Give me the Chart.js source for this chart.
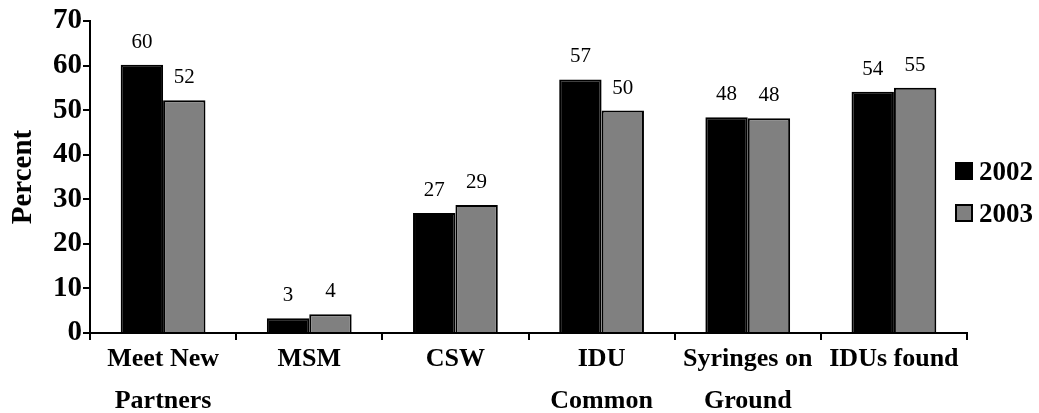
<!DOCTYPE html>
<html>
<head>
<meta charset="utf-8">
<script src="https://cdn.jsdelivr.net/npm/chart.js@4/dist/chart.umd.min.js"></script>
<style>
  html, body { margin: 0; padding: 0; background: #fff; }
  #wrap { position: relative; width: 1039px; height: 413px; }
  #legend { position: absolute; left: 955px; top: 150px; font: bold 27px "Liberation Serif", "Times New Roman", serif; color: #000; }
  .item { display: flex; align-items: center; height: 42px; }
  .box { width: 14px; height: 14px; border: 2px solid #000; margin-right: 6px; }
</style>
</head>
<body>
<div id="wrap">
  <canvas id="chart" width="1039" height="413"></canvas>
  <div id="legend"></div>
</div>
<script>
const categories = [['Meet New', 'Partners'], 'MSM', 'CSW', ['IDU', 'Common'], ['Syringes on', 'Ground'], 'IDUs found'];
const seriesNames = ['2002', '2003'];
const values2002 = [60.2, 3.3, 26.9, 56.9, 48.4, 54.1];
const values2003 = [52.2, 4.2, 28.7, 49.9, 48.2, 55.0];
const yTicks = [0, 10, 20, 30, 40, 50, 60, 70];
const colors = ['#000000', '#808080'];

const serif = '"Liberation Serif", "Times New Roman", serif';

// value labels above each bar
const valueLabels = {
    id: 'valueLabels',
    afterDatasetsDraw(chart) {
        const ctx = chart.ctx;
        ctx.save();
        ctx.font = '21px "Liberation Serif", serif';
        ctx.fillStyle = '#000';
        ctx.textAlign = 'center';
        ctx.textBaseline = 'alphabetic';
        chart.data.datasets.forEach((ds, i) => {
            chart.getDatasetMeta(i).data.forEach((bar, j) => {
                ctx.fillText(Math.round(ds.data[j]), bar.x, bar.y - 17);
            });
        });
        ctx.restore();
    }
};

const ctx = document.getElementById('chart').getContext('2d');
const chart = new Chart(ctx, {
    type: 'bar',
    data: {
        labels: categories,
        datasets: [values2002, values2003].map((vals, i) => ({
            label: seriesNames[i],
            data: vals,
            backgroundColor: colors[i],
            borderColor: '#000',
            borderWidth: 2,
            borderSkipped: 'bottom',
            categoryPercentage: 0.58,
            barPercentage: 1
        }))
    },
    options: {
        responsive: false,
        animation: false,
        devicePixelRatio: 1,
        layout: { padding: { top: 21, right: 72, left: 0, bottom: 0 } },
        scales: {
            x: {
                grid: { drawOnChartArea: false, drawTicks: true, tickLength: 7, tickColor: '#000', lineWidth: 2, offset: true },
                border: { display: true, color: '#000', width: 2 },
                ticks: {
                    color: '#000',
                    padding: -2,
                    maxRotation: 0,
                    autoSkip: false,
                    font: { family: serif, size: 26, weight: 'bold', lineHeight: 1.62 }
                },
                afterFit(scale) { scale.height = 80; }
            },
            y: {
                min: 0,
                max: 70,
                afterBuildTicks(scale) { scale.ticks = yTicks.map(v => ({ value: v })); },
                grid: { drawOnChartArea: false, drawTicks: true, tickLength: 7, tickColor: '#000', lineWidth: 2 },
                border: { display: true, color: '#000', width: 2 },
                ticks: {
                    color: '#000',
                    padding: 1,
                    font: { family: serif, size: 29, weight: 'bold' }
                },
                title: {
                    display: true,
                    text: 'Percent',
                    color: '#000',
                    padding: { top: 6, bottom: 0 },
                    font: { family: serif, size: 29, weight: 'bold' }
                },
                afterFit(scale) { scale.width = 90; }
            }
        },
        plugins: {
            legend: { display: false },
            tooltip: { enabled: false }
        }
    },
    plugins: [valueLabels]
});

// legend
const legend = document.getElementById('legend');
seriesNames.forEach((name, i) => {
    const item = document.createElement('div');
    item.className = 'item';
    const box = document.createElement('span');
    box.className = 'box';
    box.style.background = colors[i];
    const txt = document.createElement('span');
    txt.textContent = name;
    item.appendChild(box);
    item.appendChild(txt);
    legend.appendChild(item);
});
</script>
</body>
</html>
